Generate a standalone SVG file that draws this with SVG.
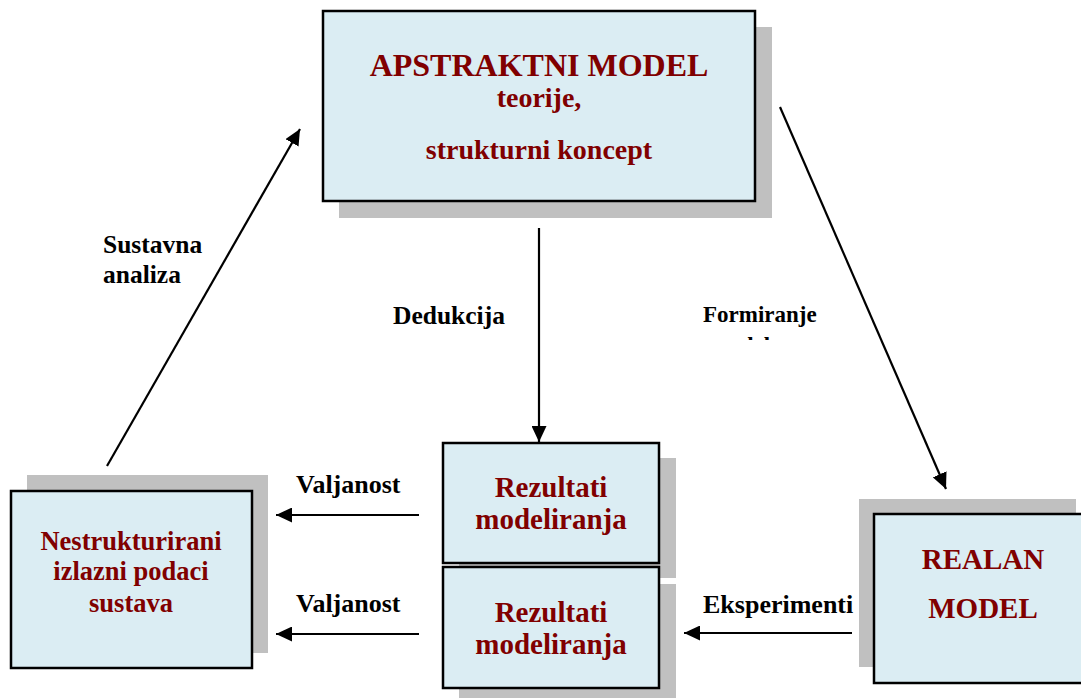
<svg xmlns="http://www.w3.org/2000/svg" width="1081" height="698" viewBox="0 0 1081 698">
<style>
.shadow{fill:#c0c0c0}
.box{fill:#dbedf3;stroke:#000;stroke-width:2.5}
.nt{font-family:"Liberation Serif","Times New Roman",serif;font-weight:bold;fill:#800000;text-anchor:middle}
.lb{font-family:"Liberation Serif","Times New Roman",serif;font-weight:bold;fill:#000}
.conn{stroke:#000;stroke-width:2.2;fill:none;marker-end:url(#ah)}
</style>
<defs>
<marker id="ah" markerUnits="userSpaceOnUse" markerWidth="17" markerHeight="15" refX="16" refY="7.5" orient="auto">
<path d="M0,0 L16,7.5 L0,15 z" fill="#000"/>
</marker>
<clipPath id="clipForm"><rect x="690" y="290" width="160" height="50"/></clipPath>
</defs>
<rect width="1081" height="698" fill="#fff"/>

<g id="apstraktni">
<rect class="shadow" x="339" y="27" width="433" height="191"/>
<rect class="box" x="323" y="11" width="432" height="190"/>
<text class="nt" x="539" y="76" font-size="32">APSTRAKTNI MODEL</text>
<text class="nt" x="539" y="107" font-size="28">teorije,</text>
<text class="nt" x="539" y="159" font-size="28">strukturni koncept</text>
</g>

<g id="nestrukturirani">
<rect class="shadow" x="27" y="475" width="241" height="178"/>
<rect class="box" x="11" y="491" width="241" height="177"/>
<text class="nt" x="131" y="550" font-size="26.5">Nestrukturirani</text>
<text class="nt" x="131" y="580" font-size="26.5">izlazni podaci</text>
<text class="nt" x="131" y="612" font-size="26.5">sustava</text>
</g>

<g id="rezultati1">
<rect class="shadow" x="459" y="458" width="217" height="120"/>
<rect class="box" x="443" y="443" width="216" height="120"/>
<text class="nt" x="551" y="497" font-size="29">Rezultati</text>
<text class="nt" x="551" y="529" font-size="29">modeliranja</text>
</g>

<g id="rezultati2">
<rect class="shadow" x="459" y="584" width="217" height="130"/>
<rect class="box" x="443" y="567" width="216" height="121"/>
<text class="nt" x="551" y="622" font-size="29">Rezultati</text>
<text class="nt" x="551" y="654" font-size="29">modeliranja</text>
</g>

<g id="realan">
<rect class="shadow" x="859" y="499" width="217" height="168"/>
<rect class="box" x="874" y="514" width="217" height="169"/>
<text class="nt" x="983" y="569" font-size="29">REALAN</text>
<text class="nt" x="983" y="618" font-size="29">MODEL</text>
</g>

<g id="connectors">
<line class="conn" x1="107" y1="466" x2="300" y2="129"/>
<line class="conn" x1="780" y1="107" x2="946" y2="489"/>
<line class="conn" x1="539" y1="228" x2="539" y2="442"/>
<line class="conn" x1="419" y1="515" x2="276" y2="515"/>
<line class="conn" x1="419" y1="634" x2="276" y2="634"/>
<line class="conn" x1="852" y1="633" x2="684" y2="633"/>
</g>

<g id="labels">
<text class="lb" x="103" y="253" font-size="25.5">Sustavna</text>
<text class="lb" x="103" y="283" font-size="25.5">analiza</text>
<text class="lb" x="393" y="324" font-size="25.5">Dedukcija</text>
<text class="lb" x="296" y="493" font-size="26">Valjanost</text>
<text class="lb" x="296" y="612" font-size="26">Valjanost</text>
<text class="lb" x="703" y="613" font-size="26">Eksperimenti</text>
<g clip-path="url(#clipForm)">
<text class="lb" x="703" y="322" font-size="23">Formiranje</text>
<text class="lb" x="710" y="353" font-size="23">modela</text>
</g>
</g>
</svg>
